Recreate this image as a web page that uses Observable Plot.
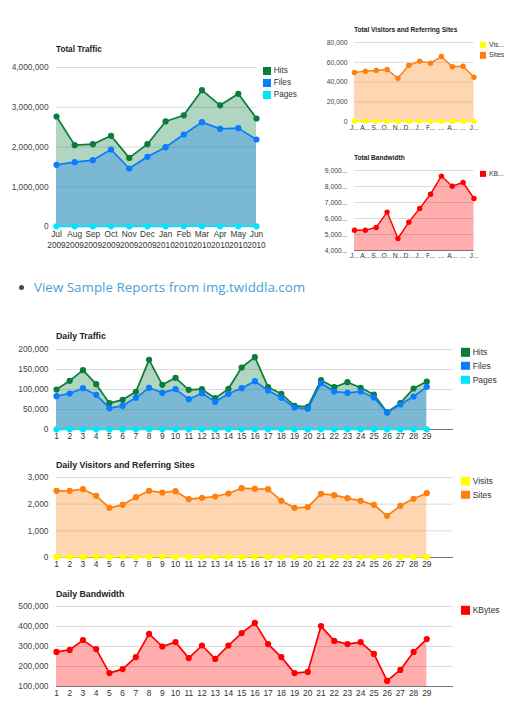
<!DOCTYPE html>
<html><head><meta charset="utf-8">
<script src="https://cdn.jsdelivr.net/npm/d3@7"></script>
<script src="https://cdn.jsdelivr.net/npm/@observablehq/plot@0.6"></script>
<style>
html,body{margin:0;padding:0;background:#fff;width:514px;height:708px;overflow:hidden}
#page{position:relative;width:514px;height:708px;font-family:"Liberation Sans",Arial,sans-serif}
#page svg{position:absolute;background:transparent;overflow:visible}
.title{position:absolute;font-weight:bold;color:#222;white-space:nowrap;line-height:1;transform:translateY(-50%)}
.sw{position:absolute;transform:translateY(-50%)}
.lg{position:absolute;color:#333;white-space:nowrap;line-height:1;transform:translateY(-50%)}
#link{position:absolute;left:34px;top:277px;font:13.4px/20px "Open Sans",sans-serif;color:#4a9fd8;white-space:nowrap}
#bullet{position:absolute;left:18.5px;top:284.5px;width:5px;height:5px;border-radius:50%;background:#444c5c}
</style></head><body><div id="page">
<div id="bullet"></div><div id="link">View Sample Reports from img.twiddla.com</div>
</div>
<script>
const GREEN="#0a7d3c",BLUE="#0a7cff",CYAN="#00e5ff",YELLOW="#ffff00",ORANGE="#ff7f0e",RED="#ff0000";

const monthLabels=["Jul\n2009","Aug\n2009","Sep\n2009","Oct\n2009","Nov\n2009","Dec\n2009","Jan\n2010","Feb\n2010","Mar\n2010","Apr\n2010","May\n2010","Jun\n2010"];
const monthShort=["J...","A...","S...","O...","N...","D...","J...","F...","...","A...","...","J..."];
const days=[1,2,3,4,5,6,7,8,9,10,11,12,13,14,15,16,17,18,19,20,21,22,23,24,25,26,27,28,29];

const totalHits=[2770000,2050000,2075000,2285000,1730000,2075000,2645000,2800000,3430000,3050000,3340000,2720000];
const totalFiles=[1556000,1623000,1674000,1941000,1464000,1757000,2000000,2318000,2628000,2460000,2477000,2192000];
const totalPages=[12000,11000,12000,13000,10000,11000,13000,14000,15000,14000,14000,12000];
const totalVisits=[700,800,500,500,400,500,500,500,500,500,700,500];
const totalSites=[49750,51100,51800,52800,44000,57100,61200,59200,65900,55500,56100,45000];
const totalKB=[5270,5270,5440,6400,4750,5770,6625,7520,8650,8020,8250,7250];

const dailyHits=[100000,121700,148300,113300,65800,74200,94200,174200,111700,129200,99200,100800,78300,101700,155000,180800,105800,89200,59200,56700,123300,105800,118300,104200,87500,43300,65800,102500,120000];
const dailyFiles=[83300,90000,103300,86700,53300,59200,79200,104200,91700,100800,75800,90800,69200,89200,103300,120800,97500,79200,55000,51700,115800,95000,91700,95000,80000,42500,62500,82500,106700];
const dailyPages=[400,400,400,400,300,300,400,500,400,400,400,400,300,400,500,500,400,400,300,300,400,400,400,400,400,300,300,400,400];
const dailyVisits=[20,25,20,40,15,40,15,20,40,15,15,20,20,25,15,40,20,15,20,20,20,15,20,20,15,20,15,20,20];
const dailySites=[2500,2500,2562,2312,1862,1975,2262,2500,2437,2487,2187,2237,2287,2400,2600,2575,2562,2125,1862,1887,2387,2337,2225,2125,1975,1562,1937,2200,2412];
const dailyKB=[273000,283000,332000,287000,167000,187000,247000,363000,300000,322000,242000,305000,238000,305000,367000,418000,312000,247000,167000,173000,402000,328000,312000,322000,263000,128000,183000,273000,337000];

const yTraffic=[0,1000000,2000000,3000000,4000000];
const ySites=[0,20000,40000,60000,80000];
const yKB=[4000,5000,6000,7000,8000,9000];
const yDailyTraffic=[0,50000,100000,150000,200000];
const yDailySites=[0,1000,2000,3000];
const yDailyKB=[100000,200000,300000,400000,500000];
const fmt=d3.format(",");

const page=document.getElementById("page");
function chart(c){
  const pad=14, svgLeft=c.left-c.mLeft, svgTop=c.top-pad;
  const svgW=c.gridEnd-svgLeft, svgH=c.bottom-c.top+pad+c.mBottom;
  const base=c.yTicks[0];
  const marks=[Plot.ruleY(c.yTicks.slice(c.baseline?1:0),{stroke:"#dcdcdc",strokeWidth:1})];
  if(c.baseline) marks.push(Plot.ruleY([base],{stroke:"#777",strokeWidth:1}));
  c.series.forEach(s=>{
    const rows=s.values.map((v,i)=>({k:c.xs[i],v}));
    marks.push(Plot.areaY(rows,{x:"k",y1:()=>base,y2:"v",fill:s.color,fillOpacity:0.32,curve:"linear"}));
  });
  c.series.forEach(s=>{
    const rows=s.values.map((v,i)=>({k:c.xs[i],v}));
    marks.push(Plot.lineY(rows,{x:"k",y:"v",stroke:s.color,strokeWidth:c.sw}));
    marks.push(Plot.dot(rows,{x:"k",y:"v",r:c.r,fill:s.color,stroke:"none"}));
  });
  marks.push(Plot.axisY({ticks:c.yTicks,tickSize:0,tickPadding:c.yPad,tickFormat:c.yFormat,fontSize:c.fs,fill:"#444",
    textStroke:"none",marginLeft:c.mLeft}));
  marks.push(Plot.axisX({ticks:c.xs,tickSize:0,tickPadding:c.xPad,tickFormat:c.xFormat,fontSize:c.fs,fill:"#333",lineHeight:c.lh||1}));
  const svg=Plot.plot({
    width:svgW,height:svgH,
    marginLeft:c.mLeft,marginRight:0,marginTop:pad,marginBottom:c.mBottom,
    style:{background:"transparent",fontFamily:'"Liberation Sans",Arial,sans-serif',overflow:"visible"},
    x:{type:"point",domain:c.xs,range:[c.mLeft,c.dataEnd-svgLeft],padding:0,round:false,axis:null,label:null},
    y:{domain:[base,c.yTicks[c.yTicks.length-1]],axis:null,label:null},
    marks
  });
  svg.style.left=svgLeft+"px"; svg.style.top=svgTop+"px";
  page.appendChild(svg);

  const t=document.createElement("div");t.className="title";t.textContent=c.title;
  t.style.cssText=`left:${c.left}px;top:${c.titleY}px;font-size:${c.titleFs}px`;
  page.appendChild(t);
  c.legend.forEach((l,i)=>{
    const y=c.lgY+i*c.lgStep;
    const s=document.createElement("div");s.className="sw";
    s.style.cssText=`left:${c.lgX}px;top:${y}px;width:${c.lgSize}px;height:${c.lgSize}px;background:${l.color}`;
    page.appendChild(s);
    const e=document.createElement("div");e.className="lg";e.textContent=l.name;
    e.style.cssText=`left:${c.lgX+c.lgSize+3}px;top:${y}px;font-size:${c.lgFs}px`;
    page.appendChild(e);
  });
}
const bigMonths={left:56,gridEnd:256,dataEnd:256,fs:8.3,sw:1.7,r:3.1,yPad:8,mLeft:56,titleFs:8.2,lgX:262.7,lgSize:8,lgFs:8.2};
chart({...bigMonths,title:"Total Traffic",titleY:50.3,top:66.7,bottom:226,mBottom:24,xPad:3,lh:1.3,
  xs:monthLabels,yTicks:yTraffic,yFormat:fmt,xFormat:d=>d,
  series:[{name:"Hits",color:GREEN,values:totalHits},{name:"Files",color:BLUE,values:totalFiles},{name:"Pages",color:CYAN,values:totalPages}],
  legend:[{name:"Hits",color:GREEN},{name:"Files",color:BLUE},{name:"Pages",color:CYAN}],lgY:70.7,lgStep:12.3});

const small={left:354,gridEnd:473.5,dataEnd:473.5,fs:6.8,sw:1.4,r:2.7,yPad:7,mLeft:44,titleFs:6.6,lgX:479.7,lgSize:6.3,lgFs:6.8,mBottom:14,xPad:3};
const idx=monthShort.map((_,i)=>i);
chart({...small,title:"Total Visitors and Referring Sites",titleY:30,top:42.3,bottom:121.7,
  xs:idx,yTicks:ySites,yFormat:fmt,xFormat:i=>monthShort[i],
  series:[{name:"Sites",color:ORANGE,values:totalSites},{name:"Visits",color:YELLOW,values:totalVisits}],
  legend:[{name:"Vis...",color:YELLOW},{name:"Sites",color:ORANGE}],lgY:45,lgStep:10.3});
chart({...small,title:"Total Bandwidth",titleY:158.3,top:170.3,bottom:250.3,baseline:true,
  xs:idx,yTicks:yKB,yFormat:d=>fmt(d)+"...",xFormat:i=>monthShort[i],
  series:[{name:"KB...",color:RED,values:totalKB}],
  legend:[{name:"KB...",color:RED}],lgY:173.7,lgStep:10.3});

const big={left:56,gridEnd:453,dataEnd:426.3,fs:8.4,sw:1.7,r:3.1,yPad:8,mLeft:56,titleFs:8.8,lgX:461.3,lgSize:8.4,lgFs:8.5,mBottom:14,xPad:4,xs:days,xFormat:d=>d};
chart({...big,title:"Daily Traffic",titleY:336.3,top:348.7,bottom:428.7,baseline:true,
  yTicks:yDailyTraffic,yFormat:fmt,
  series:[{name:"Hits",color:GREEN,values:dailyHits},{name:"Files",color:BLUE,values:dailyFiles},{name:"Pages",color:CYAN,values:dailyPages}],
  legend:[{name:"Hits",color:GREEN},{name:"Files",color:BLUE},{name:"Pages",color:CYAN}],lgY:352.3,lgStep:13.7});
chart({...big,title:"Daily Visitors and Referring Sites",titleY:465.3,top:477.3,bottom:557.3,baseline:true,
  yTicks:yDailySites,yFormat:fmt,
  series:[{name:"Sites",color:ORANGE,values:dailySites},{name:"Visits",color:YELLOW,values:dailyVisits}],
  legend:[{name:"Visits",color:YELLOW},{name:"Sites",color:ORANGE}],lgY:481.3,lgStep:13.7});
chart({...big,title:"Daily Bandwidth",titleY:594.3,top:606.3,bottom:686.3,baseline:true,
  yTicks:yDailyKB,yFormat:fmt,
  series:[{name:"KBytes",color:RED,values:dailyKB}],
  legend:[{name:"KBytes",color:RED}],lgY:610.3,lgStep:13.7});
</script></body></html>
